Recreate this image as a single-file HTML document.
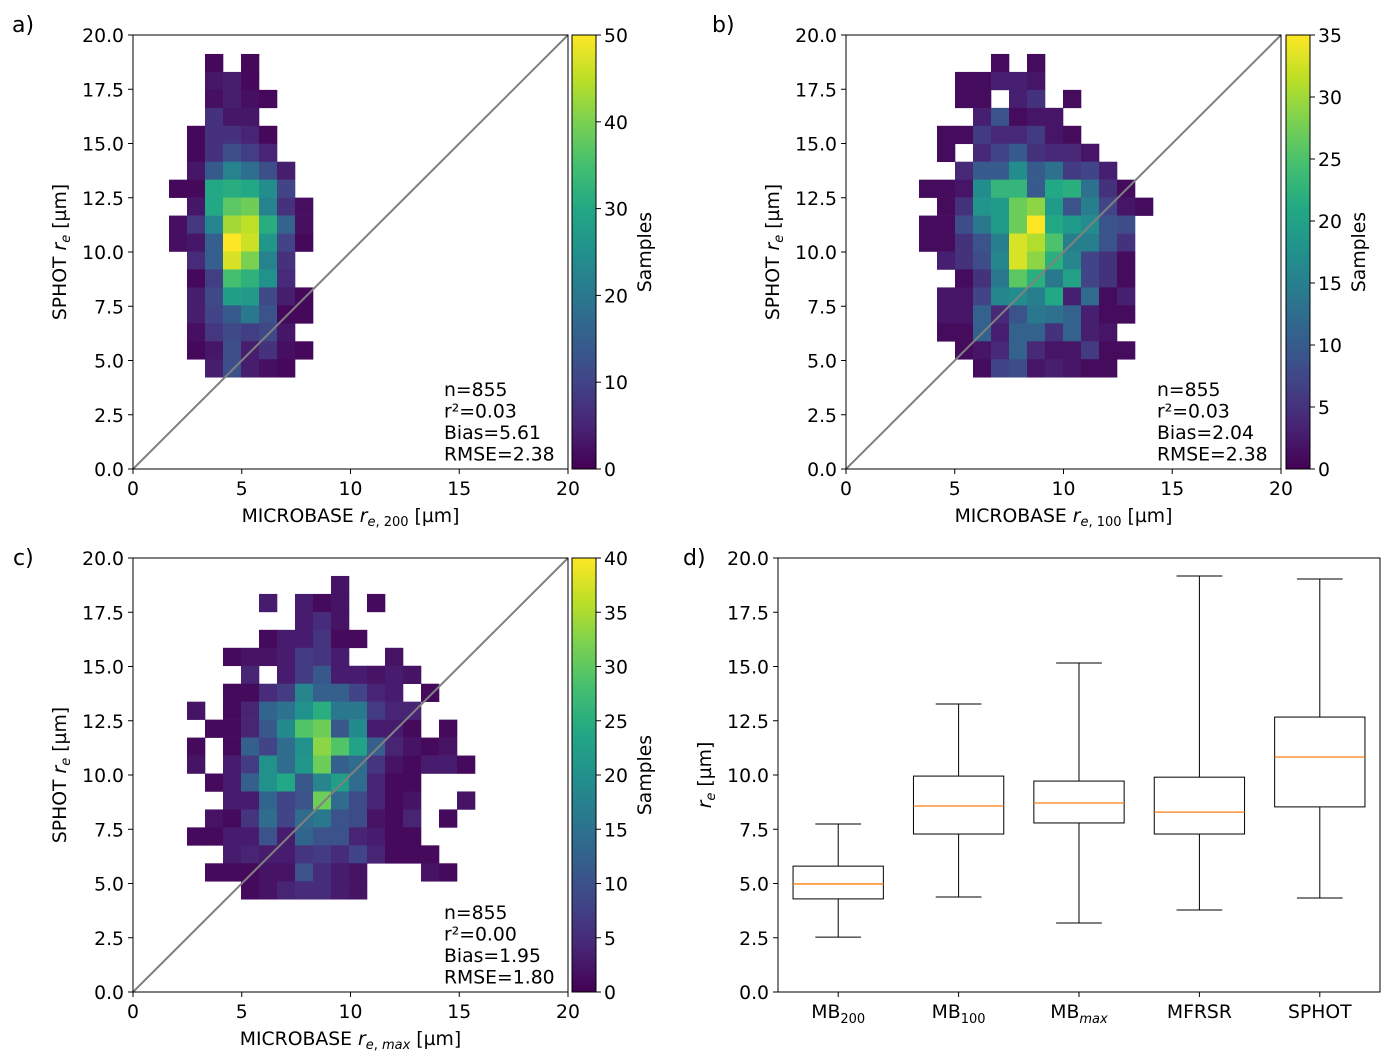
<!DOCTYPE html>
<html><head><meta charset="utf-8"><style>
body{margin:0;background:#fff}
svg{display:block;font-family:"DejaVu Sans","Liberation Sans",sans-serif}
</style></head><body>
<svg id="fig" width="1393" height="1062" viewBox="0 0 1393 1062" xmlns="http://www.w3.org/2000/svg">
<defs>
<linearGradient id="vir" x1="0" y1="1" x2="0" y2="0">
<stop offset="0" stop-color="#440154"/><stop offset="0.1" stop-color="#482475"/><stop offset="0.2" stop-color="#414487"/><stop offset="0.3" stop-color="#355f8d"/><stop offset="0.4" stop-color="#2a788e"/><stop offset="0.5" stop-color="#21918c"/><stop offset="0.6" stop-color="#22a884"/><stop offset="0.7" stop-color="#44bf70"/><stop offset="0.8" stop-color="#7ad151"/><stop offset="0.9" stop-color="#bddf26"/><stop offset="1" stop-color="#fde725"/>
</linearGradient>
</defs>
</svg>
<script>
// ---- data ----
const countsA = [
[0,0,1,0,1,0,0,0],[0,0,3,4,1,0,0,0],[0,0,2,4,2,1,0,0],[0,0,7,3,3,0,0,0],
[0,1,7,7,5,1,0,0],[0,1,7,12,9,5,0,0],[0,3,14,22,18,12,4,0],[1,1,30,31,30,24,10,0],
[0,3,30,37,39,22,7,2],[2,8,23,43,45,31,16,2],[2,3,15,50,46,26,10,1],[0,6,15,47,40,22,7,0],
[0,1,9,35,32,25,6,0],[0,4,11,28,27,11,4,1],[0,4,10,14,20,13,1,1],[0,2,8,11,9,11,3,0],
[0,1,3,12,4,7,2,1],[0,0,4,12,4,2,1,0]];
const countsB = [
[0,0,0,0,1,0,1,0,0,0,0,0,0],[0,0,1,1,3,3,2,0,0,0,0,0,0],[0,0,1,1,0,3,5,0,1,0,0,0,0],
[0,0,0,3,9,1,2,2,0,0,0,0,0],[0,1,1,6,4,4,6,2,1,0,0,0,0],[0,1,0,4,7,10,5,4,4,2,0,0,0],
[0,0,4,10,10,17,10,13,6,7,3,0,0],[1,1,2,17,23,23,10,21,22,13,5,1,0],[0,1,5,18,19,27,29,19,9,15,7,2,1],
[1,1,8,14,19,27,35,21,19,17,9,8,0],[1,1,5,9,15,33,31,25,15,15,9,5,0],[0,3,5,8,16,33,29,22,16,7,5,1,0],
[0,0,1,5,14,26,22,14,20,7,5,1,0],[0,2,2,7,16,17,15,21,3,12,1,3,0],[0,2,2,11,4,9,14,13,11,3,1,1,0],
[0,1,1,11,3,11,11,5,11,3,2,0,0],[0,0,1,2,4,11,4,2,2,6,1,1,0],[0,0,0,1,7,8,2,3,2,1,1,0,0]];
const countsC = [
[0,0,0,0,0,0,0,0,2,0,0,0,0,0,0,0],[0,0,0,0,3,0,3,1,2,0,1,0,0,0,0,0],[0,0,0,0,0,0,3,5,2,0,0,0,0,0,0,0],
[0,0,0,0,1,3,3,6,1,1,0,0,0,0,0,0],[0,0,1,2,2,3,7,6,3,0,0,2,0,0,0,0],[0,0,0,4,0,3,7,11,3,3,2,3,2,0,0,0],
[0,0,1,1,5,7,18,12,12,8,4,3,0,1,0,0],[2,0,1,4,13,15,20,25,16,16,7,4,4,0,0,0],
[0,1,1,4,11,19,29,31,11,19,3,3,1,0,1,0],[1,0,1,12,8,14,20,33,29,23,12,4,2,1,2,0],
[2,0,3,7,20,14,21,31,12,14,6,2,1,3,3,1],[0,1,3,12,20,24,11,18,22,14,4,1,1,0,0,0],
[0,0,3,3,13,8,10,31,14,9,4,1,2,0,0,2],[0,2,1,6,14,8,14,16,10,9,2,1,4,0,1,0],
[1,1,3,3,10,3,13,10,10,4,3,1,1,0,0,0],[0,0,3,4,3,3,6,7,5,8,4,1,1,1,0,0],
[0,1,1,1,2,2,10,5,3,2,0,0,0,2,1,0],[0,0,0,1,2,4,5,5,3,2,0,0,0,0,0,0]];
const statsA = ["n=855","r²=0.03","Bias=5.61","RMSE=2.38"];
const statsB = ["n=855","r²=0.03","Bias=2.04","RMSE=2.38"];
const statsC = ["n=855","r²=0.00","Bias=1.95","RMSE=1.80"];
const axisTicks = [0,2.5,5,7.5,10,12.5,15,17.5,20];
const xTicks = [0,5,10,15,20];
const boxLabels = ["MB","MB","MB","MFRSR","SPHOT"];
const boxSubs = ["200","100","max","",""];
const whiskLo = [2.53,4.38,3.18,3.78,4.33];
const q1s = [4.29,7.28,7.79,7.28,8.53];
const medians = [4.98,8.57,8.71,8.29,10.83];
const q3s = [5.80,9.95,9.72,9.90,12.67];
const whiskHi = [7.74,13.27,15.16,19.17,19.03];

// ---- helpers ----
const svg=document.getElementById('fig');
const NS='http://www.w3.org/2000/svg';
const FS=18.8;
function mk(tag,attrs,parent){const e=document.createElementNS(NS,tag);for(const k in attrs)e.setAttribute(k,attrs[k]);(parent||svg).appendChild(e);return e;}
const stops=[[68,1,84],[72,36,117],[65,68,135],[53,95,141],[42,120,142],[33,145,140],[34,168,132],[68,191,112],[122,209,81],[189,223,38],[253,231,37]];
function vir(t){t=Math.max(0,Math.min(1,t))*10;const i=Math.min(9,Math.floor(t)),f=t-i;const a=stops[i],b=stops[i+1];return `rgb(${a.map((v,k)=>Math.round(v+(b[k]-v)*f)).join(',')})`;}
function fmt(v){return v.toFixed(1);}

function heatPanel(o){
  const g=mk('g',{});
  
  
  const sx=v=>o.L+(v-0)*(o.R-o.L)/20, sy=v=>o.B-(v-0)*(o.B-o.T)/20;
  o.counts.forEach((row,ri)=>{row.forEach((c,ci)=>{ if(c<=0)return;
    const x0=o.x0+ci*o.bw, yTop=o.yTop-ri*o.bw;
    const r=mk('rect',{x:sx(x0),y:sy(yTop),width:sx(x0+o.bw)-sx(x0)+0.3,height:sy(yTop-o.bw)-sy(yTop)+0.3,fill:vir(c/o.vmax)},g);
    
    
  });});
  const d=mk('line',{x1:sx(0),y1:sy(0),x2:sx(20),y2:sy(20),stroke:'#808080','stroke-width':2},g);
  
  
  const fr=mk('rect',{x:o.L,y:o.T,width:o.R-o.L,height:o.B-o.T,fill:'none',stroke:'#000','stroke-width':1},g);
  
  
  axisTicks.forEach(v=>{mk('line',{x1:o.L-5,x2:o.L,y1:sy(v),y2:sy(v),stroke:'#000'},g);
    const t=mk('text',{x:o.L-9,y:sy(v)+7,'text-anchor':'end','font-size':FS},g);t.textContent=fmt(v);
    });
  xTicks.forEach(v=>{mk('line',{x1:sx(v),x2:sx(v),y1:o.B,y2:o.B+5,stroke:'#000'},g);
    const t=mk('text',{x:sx(v),y:o.B+26,'text-anchor':'middle','font-size':FS},g);t.textContent=v;
    });
  const yl=mk('text',{x:0,y:0,transform:`translate(${o.L-67},${(o.T+o.B)/2}) rotate(-90)`,'text-anchor':'middle','font-size':FS},g);
  yl.innerHTML='SPHOT <tspan font-style="italic">r</tspan><tspan font-style="italic" font-size="13" dy="4">e</tspan><tspan dy="-4"> [µm]</tspan>';
  
  const xl=mk('text',{x:(o.L+o.R)/2,y:o.B+53,'text-anchor':'middle','font-size':FS},g);
  xl.innerHTML='MICROBASE <tspan font-style="italic">r</tspan><tspan font-size="13" dy="4"><tspan font-style="italic">e</tspan>, '+o.sub+'</tspan><tspan dy="-4"> [µm]</tspan>';
  
  o.stats.forEach((s,i)=>{const t=mk('text',{x:o.L+311,y:o.B-73+i*21.5,'font-size':FS},g);t.textContent=s;
    });
  const pl=mk('text',{x:o.pl[0],y:o.pl[1],'font-size':22},g);pl.textContent=o.label;
  
  const cb=mk('g',{},g);
  
  
  mk('rect',{x:o.cbx,y:o.T,width:24,height:o.B-o.T,fill:'url(#vir)',stroke:'#000'},cb);
  for(let v=0;v<=o.vmax;v+=o.cstep){const y=o.B-v*(o.B-o.T)/o.vmax;
    mk('line',{x1:o.cbx+24,x2:o.cbx+29,y1:y,y2:y,stroke:'#000'},cb);
    const t=mk('text',{x:o.cbx+32,y:y+7,'font-size':FS},cb);t.textContent=v;
    }
  const ct=mk('text',{x:0,y:0,transform:`translate(${o.cbx+79},${(o.T+o.B)/2}) rotate(-90)`,'text-anchor':'middle','font-size':FS},cb);
  ct.textContent='Samples';
}
const bw=18/21.75;
heatPanel({name:'panel-a',L:133,R:568,T:35,B:469,counts:countsA,vmax:50,cstep:10,x0:36/21.75,yTop:416/21.75,bw,sub:'200',stats:statsA,label:'a)',pl:[12,32],cbx:572});
heatPanel({name:'panel-b',L:846,R:1281,T:35,B:469,counts:countsB,vmax:35,cstep:5,x0:73/21.75,yTop:416/21.75,bw,sub:'100',stats:statsB,label:'b)',pl:[712,32],cbx:1286});
heatPanel({name:'panel-c',L:133,R:568,T:558,B:992,counts:countsC,vmax:40,cstep:5,x0:54/21.75,yTop:417/21.75,bw,sub:'<tspan font-style="italic">max</tspan>',stats:statsC,label:'c)',pl:[13,565],cbx:572});

// ---- panel d boxplot ----
(function(){
  const L=778,R=1380,T=558,B=992;
  const g=mk('g',{});
  
  
  const sx=i=>L+(i+1-0.5)*(R-L)/5, sy=v=>B-v*(B-T)/20;
  const hw=0.375*(R-L)/5, cap=0.19*(R-L)/5;
  q1s.forEach((q,i)=>{
    const bg=mk('g',{},g);
    
    
    const x=sx(i);
    mk('line',{x1:x,x2:x,y1:sy(whiskLo[i]),y2:sy(q),stroke:'#000'},bg);
    mk('line',{x1:x,x2:x,y1:sy(q3s[i]),y2:sy(whiskHi[i]),stroke:'#000'},bg);
    mk('line',{x1:x-cap,x2:x+cap,y1:sy(whiskLo[i]),y2:sy(whiskLo[i]),stroke:'#000'},bg);
    mk('line',{x1:x-cap,x2:x+cap,y1:sy(whiskHi[i]),y2:sy(whiskHi[i]),stroke:'#000'},bg);
    mk('rect',{x:x-hw,y:sy(q3s[i]),width:2*hw,height:sy(q)-sy(q3s[i]),fill:'none',stroke:'#000'},bg);
    mk('line',{x1:x-hw,x2:x+hw,y1:sy(medians[i]),y2:sy(medians[i]),stroke:'#ff7f0e','stroke-width':1.3},bg);
    mk('line',{x1:x,x2:x,y1:B,y2:B+5,stroke:'#000'},g);
    const t=mk('text',{x:x,y:B+26,'text-anchor':'middle','font-size':FS},g);
    t.innerHTML=boxLabels[i]+(boxSubs[i]?`<tspan font-size="13" dy="5"${boxSubs[i]==='max'?' font-style="italic"':''}>${boxSubs[i]}</tspan>`:'');
    
  });
  const fr=mk('rect',{x:L,y:T,width:R-L,height:B-T,fill:'none',stroke:'#000'},g);
  
  axisTicks.forEach(v=>{mk('line',{x1:L-5,x2:L,y1:sy(v),y2:sy(v),stroke:'#000'},g);
    const t=mk('text',{x:L-9,y:sy(v)+7,'text-anchor':'end','font-size':FS},g);t.textContent=fmt(v);
    });
  const yl=mk('text',{x:0,y:0,transform:`translate(${L-67},${(T+B)/2}) rotate(-90)`,'text-anchor':'middle','font-size':FS},g);
  yl.innerHTML='<tspan font-style="italic">r</tspan><tspan font-style="italic" font-size="13" dy="4">e</tspan><tspan dy="-4"> [µm]</tspan>';
  
  const pl=mk('text',{x:683,y:565,'font-size':22},g);pl.textContent='d)';
  
})();
</script>
</body></html>
